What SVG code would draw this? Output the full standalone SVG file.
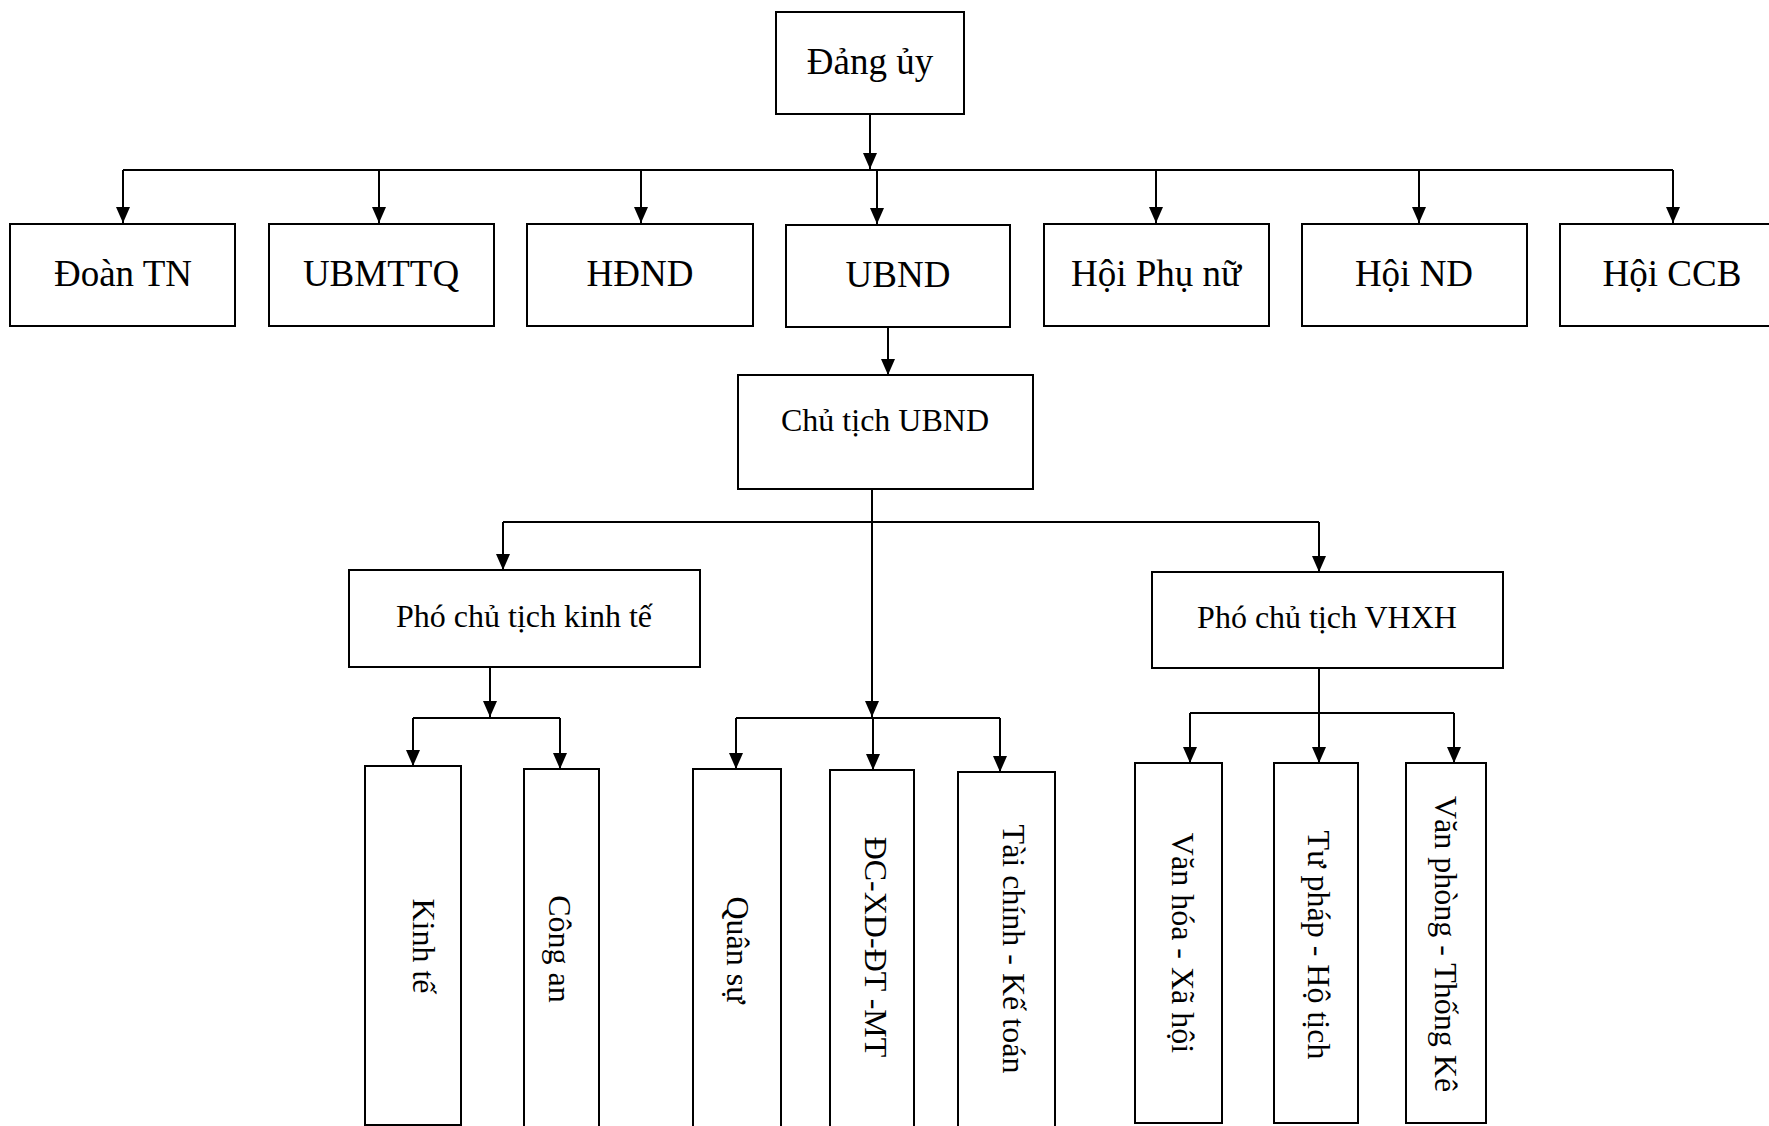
<svg xmlns="http://www.w3.org/2000/svg" width="1769" height="1126" viewBox="0 0 1769 1126">
<style>
.box{fill:#fff;stroke:#000;stroke-width:2}
.t{font-family:"Liberation Serif","Times New Roman",serif;fill:#000;text-anchor:middle}
.big{font-size:37px}
.sm{font-size:32px}
.ln{fill:none;stroke:#000;stroke-width:2}
</style>
<defs>
<marker id="ah" markerUnits="userSpaceOnUse" viewBox="0 0 16 14" refX="16" refY="7" markerWidth="16" markerHeight="14" orient="auto">
<path d="M0,0 L16,7 L0,14 z" fill="#000"/>
</marker>
</defs>
<rect width="1769" height="1126" fill="#fff"/>
<g id="connectors">
<path class="ln" d="M870,114 V169" marker-end="url(#ah)"/>
<path class="ln" d="M123,170 H1673"/>
<path class="ln" d="M123,170 V223" marker-end="url(#ah)"/>
<path class="ln" d="M379,170 V223" marker-end="url(#ah)"/>
<path class="ln" d="M641,170 V223" marker-end="url(#ah)"/>
<path class="ln" d="M877,170 V224" marker-end="url(#ah)"/>
<path class="ln" d="M1156,170 V223" marker-end="url(#ah)"/>
<path class="ln" d="M1419,170 V223" marker-end="url(#ah)"/>
<path class="ln" d="M1673,170 V223" marker-end="url(#ah)"/>
<path class="ln" d="M888,327 V375" marker-end="url(#ah)"/>
<path class="ln" d="M872,489 V717" marker-end="url(#ah)"/>
<path class="ln" d="M503,522 H1319"/>
<path class="ln" d="M503,522 V570" marker-end="url(#ah)"/>
<path class="ln" d="M1319,522 V572" marker-end="url(#ah)"/>
<path class="ln" d="M490,667 V717" marker-end="url(#ah)"/>
<path class="ln" d="M413,718 H560"/>
<path class="ln" d="M413,718 V766" marker-end="url(#ah)"/>
<path class="ln" d="M560,718 V769" marker-end="url(#ah)"/>
<path class="ln" d="M736,718 H1000"/>
<path class="ln" d="M736,718 V769" marker-end="url(#ah)"/>
<path class="ln" d="M873,718 V770" marker-end="url(#ah)"/>
<path class="ln" d="M1000,718 V772" marker-end="url(#ah)"/>
<path class="ln" d="M1319,668 V763" marker-end="url(#ah)"/>
<path class="ln" d="M1190,713 H1454"/>
<path class="ln" d="M1190,713 V763" marker-end="url(#ah)"/>
<path class="ln" d="M1454,713 V763" marker-end="url(#ah)"/>
</g>
<g id="dang-uy"><rect class="box" x="776" y="12" width="188" height="102"/><text class="t big" x="870" y="74">Đảng ủy</text></g>
<g id="doan-tn"><rect class="box" x="10" y="224" width="225" height="102"/><text class="t big" x="123" y="286">Đoàn TN</text></g>
<g id="ubmttq"><rect class="box" x="269" y="224" width="225" height="102"/><text class="t big" x="381" y="286">UBMTTQ</text></g>
<g id="hdnd"><rect class="box" x="527" y="224" width="226" height="102"/><text class="t big" x="640" y="286">HĐND</text></g>
<g id="ubnd"><rect class="box" x="786" y="225" width="224" height="102"/><text class="t big" x="898" y="287">UBND</text></g>
<g id="hoi-phu-nu"><rect class="box" x="1044" y="224" width="225" height="102"/><text class="t big" x="1156" y="286">Hội Phụ nữ</text></g>
<g id="hoi-nd"><rect class="box" x="1302" y="224" width="225" height="102"/><text class="t big" x="1414" y="286">Hội ND</text></g>
<g id="hoi-ccb"><rect class="box" x="1560" y="224" width="225" height="102"/><text class="t big" x="1672" y="286">Hội CCB</text></g>
<g id="chu-tich"><rect class="box" x="738" y="375" width="295" height="114"/><text class="t sm" x="885" y="431">Chủ tịch UBND</text></g>
<g id="pct-kinh-te"><rect class="box" x="349" y="570" width="351" height="97"/><text class="t sm" x="524" y="627">Phó chủ tịch kinh tế</text></g>
<g id="pct-vhxh"><rect class="box" x="1152" y="572" width="351" height="96"/><text class="t sm" x="1327" y="628">Phó chủ tịch VHXH</text></g>
<g id="kinh-te"><rect class="box" x="365" y="766" width="96" height="359"/><text class="t sm" transform="translate(413,946) rotate(90)">Kinh tế</text></g>
<g id="cong-an"><rect class="box" x="524" y="769" width="75" height="370"/><text class="t sm" transform="translate(549,949) rotate(90)">Công an</text></g>
<g id="quan-su"><rect class="box" x="693" y="769" width="88" height="370"/><text class="t sm" transform="translate(727,950) rotate(90)">Quân sự</text></g>
<g id="dc-xd"><rect class="box" x="830" y="770" width="84" height="370"/><text class="t sm" transform="translate(865,947) rotate(90)">ĐC-XD-ĐT -MT</text></g>
<g id="tai-chinh"><rect class="box" x="958" y="772" width="97" height="370"/><text class="t sm" transform="translate(1003,949) rotate(90)">Tài chính - Kế toán</text></g>
<g id="van-hoa"><rect class="box" x="1135" y="763" width="87" height="360"/><text class="t sm" transform="translate(1172,943) rotate(90)">Văn hóa - Xã hội</text></g>
<g id="tu-phap"><rect class="box" x="1274" y="763" width="84" height="360"/><text class="t sm" transform="translate(1308,945) rotate(90)">Tư pháp - Hộ tịch</text></g>
<g id="van-phong"><rect class="box" x="1406" y="763" width="80" height="360"/><text class="t sm" transform="translate(1435,944) rotate(90)">Văn phòng - Thống Kê</text></g>
</svg>
